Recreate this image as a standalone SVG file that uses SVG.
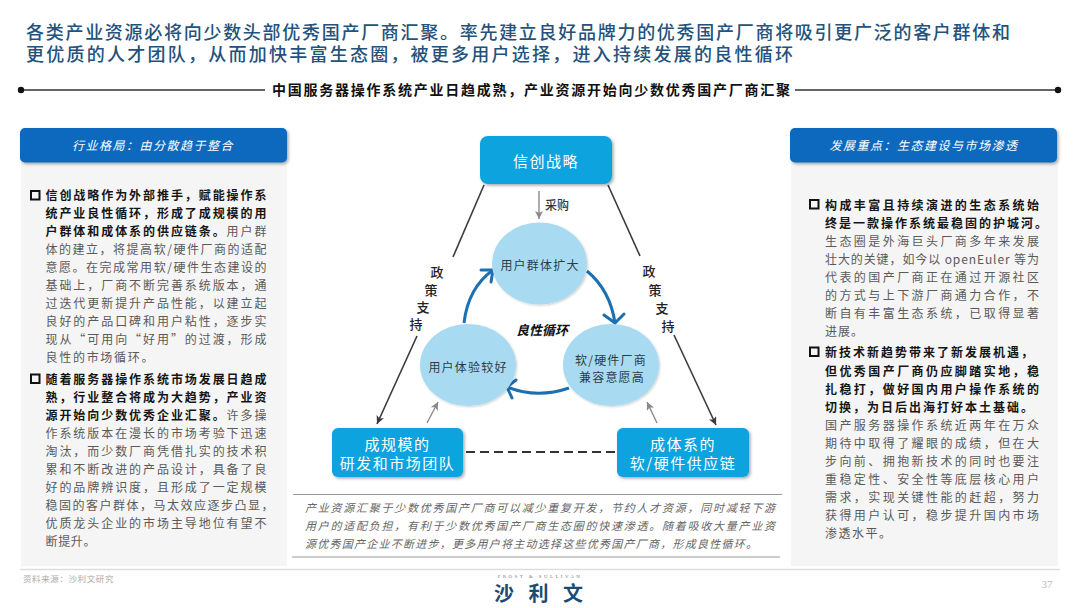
<svg xmlns="http://www.w3.org/2000/svg" width="1080" height="608" viewBox="0 0 1080 608">
<style>
text{font-family:"Noto Sans CJK SC","Noto Sans",sans-serif}
.title{font-size:18px;fill:#24527c;font-weight:500}
.sub{font-size:14px;fill:#111;font-weight:700}
.hd{font-size:12px;fill:#fff;font-style:italic;text-anchor:middle;letter-spacing:1.5px}
.b{font-size:12px;fill:#5a5a5a}
.s{font-weight:700;fill:#151515}
.box{fill:#0ca3de;filter:url(#sh)}
.boxt{font-size:15px;fill:#fff;text-anchor:middle;letter-spacing:1.5px}
.cir{fill:#a8dbf2;filter:url(#sh2)}
.cirt{font-size:12px;fill:#2c3b48;text-anchor:middle;letter-spacing:1.2px}
.pol{font-size:13px;fill:#222;text-anchor:middle;font-weight:500}
.dk{stroke:#3a3a44;stroke-width:1.6;fill:none}
.gr{stroke:#8a8a8a;stroke-width:1.4;fill:none}
.cy{stroke:#1a70b2;stroke-width:3;fill:none}
.it{font-size:11px;fill:#666;font-style:italic}
.bul{fill:none;stroke:#111;stroke-width:2}
</style>
<defs>
<filter id="sh" x="-10%" y="-20%" width="125%" height="150%"><feDropShadow dx="1.5" dy="1.5" stdDeviation="1.5" flood-color="#000" flood-opacity=".35"/></filter>
<filter id="sh2" x="-10%" y="-10%" width="125%" height="125%"><feDropShadow dx="1" dy="1" stdDeviation="1" flood-color="#000" flood-opacity=".2"/></filter>
<marker id="ad" markerWidth="9" markerHeight="9" refX="8" refY="4" orient="auto" markerUnits="userSpaceOnUse"><path d="M0 0L8 4L0 8L2 4Z" fill="#3a3a44"/></marker>
<marker id="ag" markerWidth="9" markerHeight="9" refX="8" refY="4" orient="auto" markerUnits="userSpaceOnUse"><path d="M0 0L8 4L0 8L2 4Z" fill="#8a8a8a"/></marker>
</defs>
<rect width="1080" height="608" fill="#fff"/>

<g id="title">
<text class="title" x="26" y="38.500" textLength="984">各类产业资源必将向少数头部优秀国产厂商汇聚。率先建立良好品牌力的优秀国产厂商将吸引更广泛的客户群体和</text>
<text class="title" x="26" y="61" textLength="767">更优质的人才团队&#65292;从而加快丰富生态圈&#65292;被更多用户选择&#65292;进入持续发展的良性循环</text>
</g>
<g id="subtitle">
<path d="M21 90H265M795 90H1058" stroke="#333" stroke-width="1.500" fill="none"/>
<circle cx="21" cy="90" r="3.200" fill="#111"/><circle cx="1058" cy="90" r="3.200" fill="#111"/>
<text class="sub" x="272" y="95" textLength="518">中国服务器操作系统产业日趋成熟&#65292;产业资源开始向少数优秀国产厂商汇聚</text>
</g>

<g id="panel-left">
<rect x="21" y="160" width="266" height="406" fill="#f5f5f5"/>
<rect x="20" y="128" width="267" height="34.500" rx="5" fill="#0769be" filter="url(#sh)"/>
<text class="hd" x="153" y="150">行业格局&#65306;由分散趋于整合</text>
<rect class="bul" x="31" y="191" width="8.500" height="8.500"/>
<text class="b s" x="45.500" y="200" textLength="221">信创战略作为外部推手&#65292;赋能操作系</text>
<text class="b s" x="45.500" y="218" textLength="221">统产业良性循环&#65292;形成了成规模的用</text>
<text class="b" x="45.500" y="236" textLength="221"><tspan class="s">户群体和成体系的供应链条。</tspan>用户群</text>
<text class="b" x="45.500" y="254" textLength="221">体的建立&#65292;将提高软/硬件厂商的适配</text>
<text class="b" x="45.500" y="272" textLength="221">意愿。在完成常用软/硬件生态建设的</text>
<text class="b" x="45.500" y="290" textLength="221">基础上&#65292;厂商不断完善系统版本&#65292;通</text>
<text class="b" x="45.500" y="308" textLength="221">过迭代更新提升产品性能&#65292;以建立起</text>
<text class="b" x="45.500" y="326" textLength="221">良好的产品口碑和用户粘性&#65292;逐步实</text>
<text class="b" x="45.500" y="344" textLength="221">现从“可用向“好用”的过渡&#65292;形成</text>
<text class="b" x="45.500" y="362" textLength="108">良性的市场循环。</text>
<rect class="bul" x="31" y="374.500" width="8.500" height="8.500"/>
<text class="b s" x="45.500" y="383.500" textLength="221">随着服务器操作系统市场发展日趋成</text>
<text class="b s" x="45.500" y="401.500" textLength="221">熟&#65292;行业整合将成为大趋势&#65292;产业资</text>
<text class="b" x="45.500" y="419.500" textLength="221"><tspan class="s">源开始向少数优秀企业汇聚。</tspan>许多操</text>
<text class="b" x="45.500" y="437.500" textLength="221">作系统版本在漫长的市场考验下迅速</text>
<text class="b" x="45.500" y="455.500" textLength="221">淘汰&#65292;而少数厂商凭借扎实的技术积</text>
<text class="b" x="45.500" y="473.500" textLength="221">累和不断改进的产品设计&#65292;具备了良</text>
<text class="b" x="45.500" y="491.500" textLength="221">好的品牌辨识度&#65292;且形成了一定规模</text>
<text class="b" x="45.500" y="509.500" textLength="228">稳固的客户群体&#65292;马太效应逐步凸显&#65292;</text>
<text class="b" x="45.500" y="527.500" textLength="221">优质龙头企业的市场主导地位有望不</text>
<text class="b" x="45.500" y="545.500" textLength="50">断提升。</text>
</g>

<g id="panel-right">
<rect x="791" y="160" width="267" height="406" fill="#f5f5f5"/>
<rect x="790" y="128" width="267" height="34.500" rx="5" fill="#0769be" filter="url(#sh)"/>
<text class="hd" x="924" y="150">发展重点&#65306;生态建设与市场渗透</text>
<rect class="bul" x="810" y="200" width="8.500" height="8.500"/>
<text class="b s" x="825" y="209.500" textLength="214">构成丰富且持续演进的生态系统始</text>
<text class="b s" x="825" y="227.500" textLength="222">终是一款操作系统最稳固的护城河。</text>
<text class="b" x="825" y="245.500" textLength="214">生态圈是外海巨头厂商多年来发展</text>
<text class="b" x="825" y="263.500" textLength="214">壮大的关键&#65292;如今以 openEuler 等为</text>
<text class="b" x="825" y="281.500" textLength="214">代表的国产厂商正在通过开源社区</text>
<text class="b" x="825" y="299.500" textLength="214">的方式与上下游厂商通力合作&#65292;不</text>
<text class="b" x="825" y="317.500" textLength="214">断自有丰富生态系统&#65292;已取得显著</text>
<text class="b" x="825" y="335.500" textLength="38">进展。</text>
<rect class="bul" x="810" y="347.500" width="8.500" height="8.500"/>
<text class="b s" x="825" y="357" textLength="208">新技术新趋势带来了新发展机遇&#65292;</text>
<text class="b s" x="825" y="375.500" textLength="214">但优秀国产厂商仍应脚踏实地&#65292;稳</text>
<text class="b s" x="825" y="393.500" textLength="214">扎稳打&#65292;做好国内用户操作系统的</text>
<text class="b s" x="825" y="411.500" textLength="208">切换&#65292;为日后出海打好本土基础。</text>
<text class="b" x="825" y="429.500" textLength="214">国产服务器操作系统近两年在万众</text>
<text class="b" x="825" y="447.500" textLength="214">期待中取得了耀眼的成绩&#65292;但在大</text>
<text class="b" x="825" y="465.500" textLength="214">步向前、拥抱新技术的同时也要注</text>
<text class="b" x="825" y="483.500" textLength="214">重稳定性、安全性等底层核心用户</text>
<text class="b" x="825" y="501.500" textLength="214">需求&#65292;实现关键性能的赶超&#65292;努力</text>
<text class="b" x="825" y="519.500" textLength="214">获得用户认可&#65292;稳步提升国内市场</text>
<text class="b" x="825" y="537.500" textLength="66">渗透水平。</text>
</g>

<g id="connectors">
<path class="dk" d="M484 185L453 257"/>
<path class="dk" d="M417 336L377 424" marker-end="url(#ad)"/>
<path class="dk" d="M608 185L640 256"/>
<path class="dk" d="M674 335L716 425" marker-end="url(#ad)"/>
<path class="gr" d="M539 191V219" marker-end="url(#ag)"/>
<path class="gr" d="M427 423L438 402" marker-end="url(#ag)"/>
<path class="gr" d="M657 423L647 402" marker-end="url(#ag)"/>
<path d="M466 452H615" stroke="#333" stroke-width="1.800" stroke-dasharray="9 5" fill="none"/>
</g>
<g id="cycle">
<path class="cy" d="M587 271Q610 290 615 323"/><path class="cy" stroke-linecap="round" d="M604 315L615 323L624 314"/>
<path class="cy" d="M569 388Q537 399 507 387"/><path class="cy" stroke-linecap="round" d="M516 380L507 387L512 398"/>
<path class="cy" d="M464 323Q468 288 493 270"/><path class="cy" stroke-linecap="round" d="M481 270L493 270L491 282"/>
</g>

<g id="node-xinchuang"><rect class="box" x="480" y="136" width="132" height="48" rx="8"/><text class="boxt" x="546" y="167">信创战略</text></g>
<g id="node-team"><rect class="box" x="332" y="428" width="131" height="49" rx="6"/><text class="boxt" x="397.500" y="450">成规模的</text><text class="boxt" x="397.500" y="469">研发和市场团队</text></g>
<g id="node-chain"><rect class="box" x="617" y="428" width="132" height="49" rx="6"/><text class="boxt" x="683" y="450">成体系的</text><text class="boxt" x="683" y="469">软/硬件供应链</text></g>
<g id="node-users"><ellipse class="cir" cx="539.500" cy="263.500" rx="47.500" ry="41"/><text class="cirt" x="540" y="269.500">用户群体扩大</text></g>
<g id="node-experience"><ellipse class="cir" cx="468" cy="365" rx="48" ry="41"/><text class="cirt" x="468" y="372">用户体验较好</text></g>
<g id="node-vendor"><ellipse class="cir" cx="611" cy="365" rx="48" ry="41"/><text class="cirt" x="611" y="365">软/硬件厂商</text><text class="cirt" x="612" y="382">兼容意愿高</text></g>

<g id="labels">
<text x="557" y="209.500" font-size="12" fill="#333" text-anchor="middle" font-weight="500">采购</text>
<text x="542" y="335" font-size="13" fill="#111" text-anchor="middle" font-weight="700" font-style="italic">良性循环</text>
<text class="pol" x="437" y="277">政</text><text class="pol" x="431" y="295">策</text><text class="pol" x="423" y="312">支</text><text class="pol" x="416" y="329">持</text>
<text class="pol" x="649" y="276">政</text><text class="pol" x="655" y="295">策</text><text class="pol" x="662" y="313">支</text><text class="pol" x="668" y="331">持</text>
</g>

<g id="note">
<path d="M293 494.500H782M292 557H780" stroke="#999" stroke-width="1" fill="none"/>
<text class="it" x="305" y="512" textLength="470">产业资源汇聚于少数优秀国产厂商可以减少重复开发&#65292;节约人才资源&#65292;同时减轻下游</text>
<text class="it" x="305" y="530" textLength="470">用户的适配负担&#65292;有利于少数优秀国产厂商生态圈的快速渗透。随着吸收大量产业资</text>
<text class="it" x="305" y="548" textLength="452">源优秀国产企业不断进步&#65292;更多用户将主动选择这些优秀国产厂商&#65292;形成良性循环。</text>
</g>

<g id="footer">
<path d="M20 569.500H1060" stroke="#ddd" stroke-width="1.500" fill="none"/>
<text x="23" y="582" font-size="8.500" fill="#aaa" letter-spacing=".6">资料来源&#65306;沙利文研究</text>
<text x="1047" y="588" font-size="11" fill="#bbb" text-anchor="middle" style="font-family:'Liberation Serif',serif">37</text>
<text x="540" y="578" font-size="5" fill="#777" text-anchor="middle" letter-spacing="2.400" style="font-family:'Liberation Serif',serif">FROST &amp; SULLIVAN</text>
<text x="494 528.500 563" y="601" font-size="20" fill="#1b4a73" font-weight="700">沙利文</text>
</g>
</svg>
